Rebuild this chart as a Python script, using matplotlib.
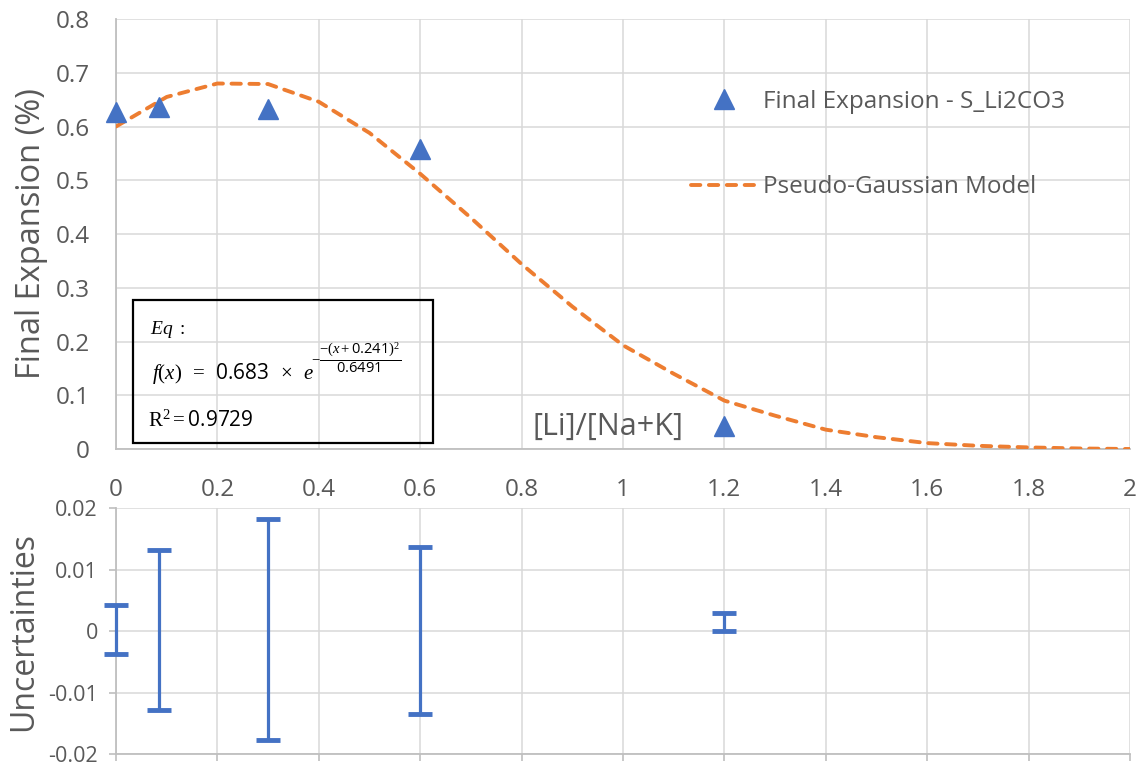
import matplotlib.pyplot as plt
from matplotlib.patches import Rectangle
from matplotlib.ticker import FuncFormatter, MultipleLocator

plt.rcParams['font.family'] = ['Open Sans', 'DejaVu Sans']
plt.rcParams['axes.unicode_minus'] = False
plt.rcParams['mathtext.fontset'] = 'custom'
plt.rcParams['mathtext.rm'] = 'Liberation Serif'
plt.rcParams['mathtext.it'] = 'Liberation Serif:italic'
plt.rcParams['mathtext.sf'] = 'Open Sans'

# measured final expansion against [Li]/[Na+K]
ratio = [0.0, 0.085, 0.3, 0.6, 1.2]
expansion = [0.627, 0.636, 0.633, 0.558, 0.043]

# spread of repeat specimens (below / above the mean)
unc_low = [0.0038, 0.0128, 0.0178, 0.0135, 0.0]
unc_high = [0.0043, 0.0132, 0.0182, 0.0137, 0.003]
unc_centre = [0.0, 0.0, 0.0, 0.0, 0.0]

# fitted pseudo-gaussian model, tabulated every 0.1
model_x = [0.0, 0.1, 0.2, 0.3, 0.4, 0.5, 0.6, 0.7, 0.8, 0.9, 1.0,
           1.1, 1.2, 1.3, 1.4, 1.5, 1.6, 1.7, 1.8, 1.9, 2.0]
model_y = [0.600, 0.655, 0.680, 0.679, 0.646, 0.588, 0.512, 0.430, 0.344, 0.265, 0.193,
           0.140, 0.090, 0.062, 0.036, 0.022, 0.011, 0.006, 0.003, 0.001, 0.000]

BLUE = '#4472C4'
ORANGE = '#ED7D31'
GRID = '#D9D9D9'
AXIS = '#BFBFBF'
TXT = '#595959'

fig = plt.figure(figsize=(11.42, 7.69), dpi=100)
ax = fig.add_axes([0.1016, 0.4161, 0.8879, 0.5592])
ax2 = fig.add_axes([0.1016, 0.0195, 0.8879, 0.3199])

fmt = FuncFormatter(lambda v, p: f'{v:g}')

# top panel: expansion + model
ax.plot(model_x, model_y, color=ORANGE, lw=2.8, dashes=(2.4, 2.2),
        dash_capstyle='round', label='Pseudo-Gaussian Model', zorder=3)
ax.plot(ratio, expansion, ls='none', marker='^', ms=15, color=BLUE,
        label='Final Expansion - S_Li2CO3', zorder=4, clip_on=False)

ax.set_xlim(0, 2)
ax.set_ylim(0, 0.8)
ax.xaxis.set_major_locator(MultipleLocator(0.2))
ax.yaxis.set_major_locator(MultipleLocator(0.1))
ax.xaxis.set_major_formatter(fmt)
ax.yaxis.set_major_formatter(fmt)
ax.grid(True, color=GRID, lw=1.1)
ax.set_axisbelow(True)
ax.tick_params(length=0, labelsize=17.5, colors=TXT)
ax.tick_params(axis='x', pad=21)
ax.tick_params(axis='y', pad=19)
for s in ['top', 'right']:
    ax.spines[s].set_visible(False)
for s in ['left', 'bottom']:
    ax.spines[s].set_color(AXIS)
    ax.spines[s].set_linewidth(1.3)
ax.set_ylabel('Final Expansion (%)', fontsize=23.5, color=TXT, labelpad=5)

ax.text(0.411, 0.051, '[Li]/[Na+K]', transform=ax.transAxes, fontsize=22,
        color=TXT, va='center', ha='left')

handles, labels = ax.get_legend_handles_labels()
ax.legend(handles[::-1], labels[::-1], loc='upper left', bbox_to_anchor=(0.567, 0.836),
          frameon=False, fontsize=17.5, handlelength=2.75, handletextpad=0.2,
          labelspacing=2.55, labelcolor=TXT, borderaxespad=0, borderpad=0)

# equation box
ax.add_patch(Rectangle((0.0168, 0.014), 0.2958, 0.3325, transform=ax.transAxes,
                       fill=False, ec='black', lw=1.6, zorder=5))
ax.text(0.0335, 0.277, r'$Eq\ :$', transform=ax.transAxes, fontsize=14, va='center')
ax.text(0.0356, 0.176, r'$f(x)\;\;=\;\;\mathsf{0.683}\;\;\times\;\;e$',
        transform=ax.transAxes, fontsize=15, va='center')
ax.text(0.192, 0.212, r'$-\dfrac{-(x+\mathsf{0.241})^2}{\mathsf{0.6491}}$',
        transform=ax.transAxes, fontsize=10.5, va='center')
ax.text(0.0316, 0.065, r'$\mathrm{R}^2 = \mathsf{0.9729}$', transform=ax.transAxes,
        fontsize=15, va='center')

# bottom panel: uncertainties
eb = ax2.errorbar(ratio, unc_centre, yerr=[unc_low, unc_high], fmt='none', ecolor=BLUE,
                  elinewidth=2.3, capsize=8.5, capthick=3.5, zorder=4)
for art in list(eb.lines[1]) + list(eb.lines[2]):
    art.set_clip_on(False)
ax2.set_xlim(0, 2)
ax2.set_ylim(-0.02, 0.02)
ax2.xaxis.set_major_locator(MultipleLocator(0.2))
ax2.yaxis.set_major_locator(MultipleLocator(0.01))
ax2.yaxis.set_major_formatter(fmt)
ax2.grid(True, color=GRID, lw=1.1)
ax2.set_axisbelow(True)
ax2.tick_params(axis='x', labelbottom=False, length=5, width=1.2, color=AXIS)
ax2.tick_params(axis='y', length=5, width=1.2, color=AXIS, labelsize=15.5,
                labelcolor=TXT, pad=8)
for s in ['top', 'right']:
    ax2.spines[s].set_visible(False)
for s in ['left', 'bottom']:
    ax2.spines[s].set_color(AXIS)
    ax2.spines[s].set_linewidth(1.3)
ax2.set_ylabel('Uncertainties', fontsize=23, color=TXT, labelpad=6)

fig.savefig('out.png', dpi=100)
